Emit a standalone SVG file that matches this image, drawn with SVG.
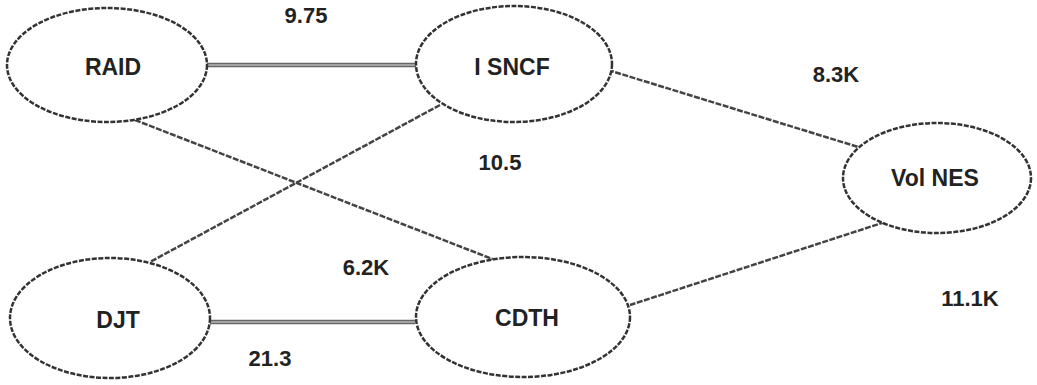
<svg xmlns="http://www.w3.org/2000/svg" width="1037" height="385" viewBox="0 0 1037 385">
<style>
.node{fill:#fff;stroke:#333;stroke-width:2.5;stroke-dasharray:5 1.5}
.lbl{font-family:"Liberation Sans","Noto Sans CJK SC",sans-serif;font-size:23px;font-weight:bold;fill:#222;text-anchor:middle;dominant-baseline:central}
.edge{stroke:#444;stroke-width:2.5;fill:none;stroke-dasharray:6 1.5}
.hedge{stroke:#666;stroke-width:4.5;fill:none}
.hinner{stroke:#ddd;stroke-width:1.2;fill:none}
.elbl{font-family:"Liberation Sans","Noto Sans CJK SC",sans-serif;font-size:22px;font-weight:bold;fill:#222;text-anchor:middle;dominant-baseline:central}
</style>
<rect width="1037" height="385" fill="#fff"/>
<g id="connectors">
<line class="hedge" x1="207" y1="65" x2="416" y2="65"/>
<line class="hinner" x1="207" y1="65" x2="416" y2="65"/>
<line class="hedge" x1="210" y1="322" x2="415" y2="322"/>
<line class="hinner" x1="210" y1="322" x2="415" y2="322"/>
<line class="edge" x1="135" y1="120" x2="500" y2="262"/>
<line class="edge" x1="440" y1="105" x2="150" y2="262"/>
<line class="edge" x1="608" y1="70" x2="868" y2="150"/>
<line class="edge" x1="885" y1="222" x2="630" y2="305"/>
<text class="elbl" x="306" y="15">9.75</text>
<text class="elbl" x="836" y="74">8.3K</text>
<text class="elbl" x="500" y="162">10.5</text>
<text class="elbl" x="366" y="267">6.2K</text>
<text class="elbl" x="970" y="298">11.1K</text>
<text class="elbl" x="270" y="358">21.3</text>
</g>
<g id="node-raid">
<ellipse class="node" cx="107" cy="65" rx="100" ry="57"/>
<text class="lbl" x="113" y="67">RAID</text>
</g>
<g id="node-isncf">
<ellipse class="node" cx="514" cy="64" rx="98" ry="58"/>
<text class="lbl" x="512" y="67">I SNCF</text>
</g>
<g id="node-volnet">
<ellipse class="node" cx="937" cy="178" rx="94" ry="55"/>
<text class="lbl" x="935" y="178">Vol NES</text>
</g>
<g id="node-djt">
<ellipse class="node" cx="110" cy="318" rx="100" ry="60"/>
<text class="lbl" x="118" y="320">DJT</text>
</g>
<g id="node-cdth">
<ellipse class="node" cx="523" cy="317" rx="107" ry="60"/>
<text class="lbl" x="527" y="318">CDTH</text>
</g>
</svg>
